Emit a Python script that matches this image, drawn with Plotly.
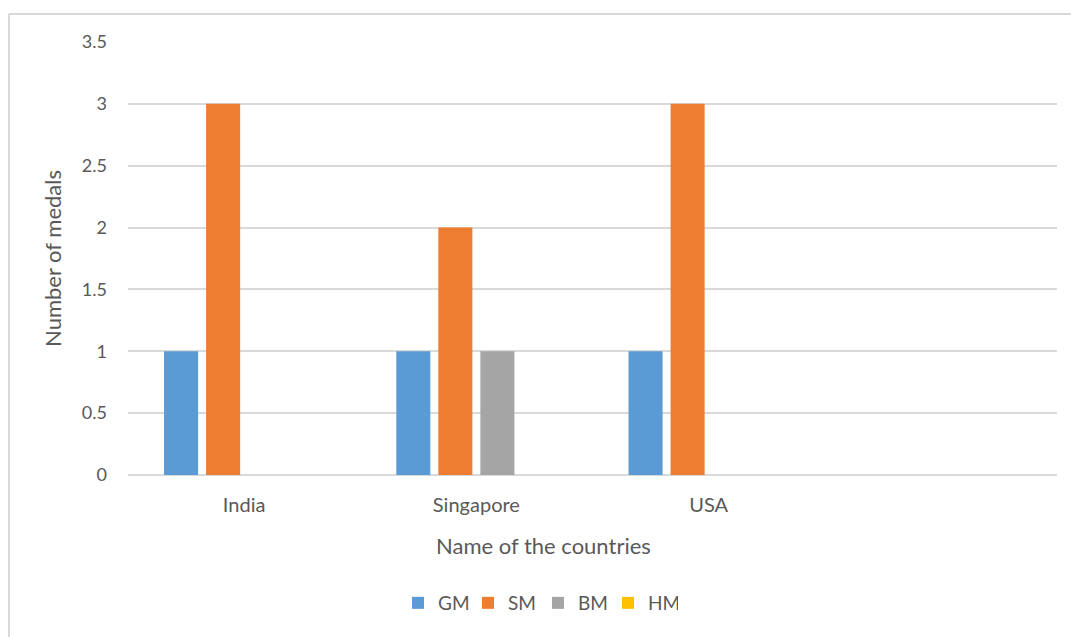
import plotly.graph_objects as go

# Medal tally per country
countries = ["India", "Singapore", "USA"]
gm = [1, 1, 1]
sm = [3, 2, 3]
bm = [0, 1, 0]
hm = [0, 0, 0]

series = [
    ("GM", gm, "#5B9BD5"),
    ("SM", sm, "#ED7D31"),
    ("BM", bm, "#A5A5A5"),
    ("HM", hm, "#FFC000"),
]

W, H = 1071, 637
L, R, T, B = 128, 14, 42, 162
pw, ph = W - L - R, H - T - B

font_family = "Lato, 'Open Sans', sans-serif"
grey = "#595959"

fig = go.Figure()
for name, vals, color in series:
    fig.add_trace(go.Bar(
        name=name, x=countries, y=vals,
        marker=dict(color=color, line=dict(width=0)),
    ))

def px_x(p):
    return (p - L) / pw

def px_y(p):
    return (H - B - p) / ph

# outer chart frame (left and top edges visible)
frame = dict(type="line", xref="paper", yref="paper",
             line=dict(color="#d9d9d9", width=2), layer="below")
fig.add_shape(**frame, x0=px_x(9), x1=px_x(9), y0=px_y(14), y1=px_y(660))
fig.add_shape(**frame, x0=px_x(9), x1=px_x(1090), y0=px_y(14), y1=px_y(14))

# category axis title, centred on the whole chart
fig.add_annotation(text="Name of the countries", xref="paper", yref="paper",
                   x=px_x(543), y=px_y(545), xanchor="center", yanchor="middle",
                   showarrow=False, font=dict(size=22, color=grey))

fig.update_layout(
    width=W, height=H,
    margin=dict(l=L, r=R, t=T, b=B, autoexpand=False),
    paper_bgcolor="white", plot_bgcolor="white",
    barmode="group", bargap=0.276, bargroupgap=0.19,
    font=dict(family=font_family, color=grey, size=18),
    showlegend=True,
    legend=dict(orientation="h", x=px_x(538), xanchor="center",
                y=px_y(603), yanchor="middle",
                font=dict(size=19, color=grey), itemwidth=30,
                entrywidth=25, entrywidthmode="pixels",
                traceorder="normal"),
    xaxis=dict(
        type="category", range=[-0.5, 3.5],
        showgrid=False, showline=False, zeroline=False,
        ticks="", tickfont=dict(size=20, color=grey),
        ticklabelstandoff=16,
    ),
    yaxis=dict(
        range=[0, 3.5], dtick=0.5,
        showgrid=True, gridcolor="#d9d9d9", gridwidth=1.5,
        zeroline=True, zerolinecolor="#d9d9d9", zerolinewidth=1.5,
        showline=False, ticks="",
        tickfont=dict(size=18, color=grey),
        ticklabelstandoff=20,
        title=dict(text="Number of medals",
                   font=dict(size=22, color=grey), standoff=14),
    ),
)

fig.write_html("out.html")
